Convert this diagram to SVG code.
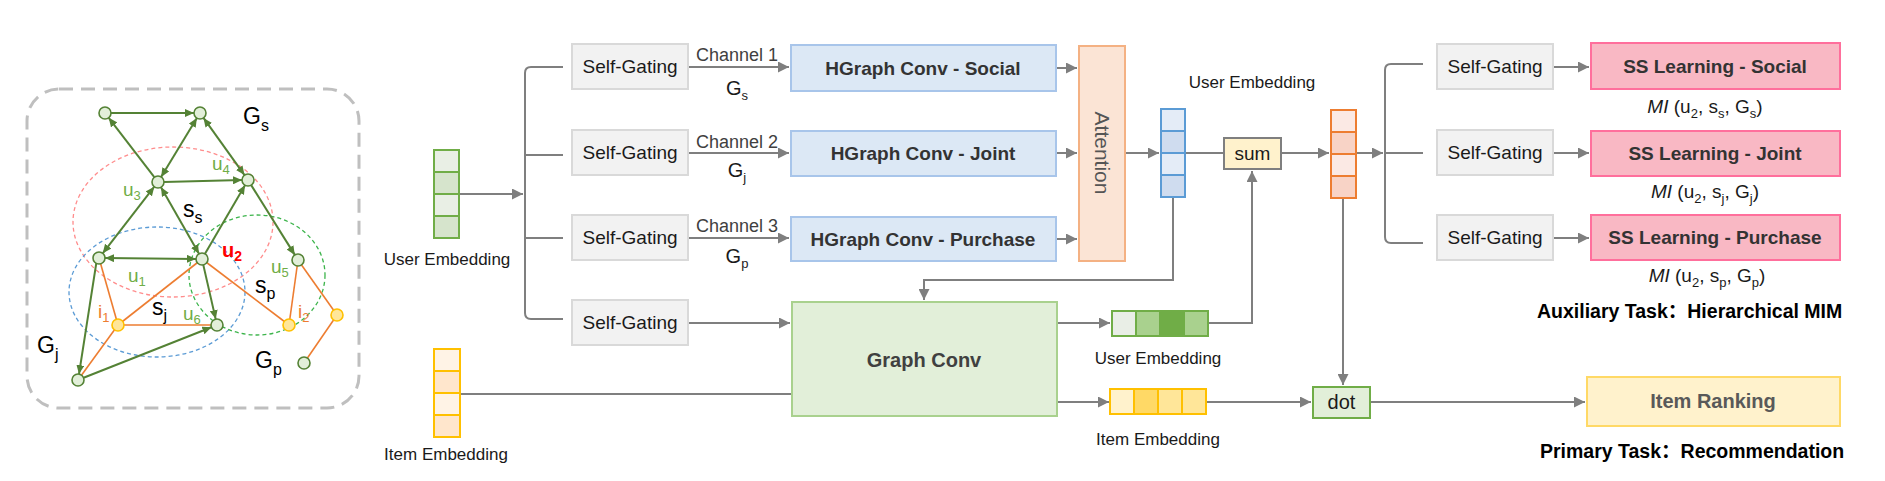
<svg xmlns="http://www.w3.org/2000/svg" width="1885" height="481" viewBox="0 0 1885 481">
<style>
text{font-family:"Liberation Sans",Arial,"Noto Sans CJK SC",sans-serif;}
.conn{fill:none;stroke:#7f7f7f;stroke-width:2;}
.sg{fill:#f2f2f2;stroke:#d9d9d9;stroke-width:2;}
.sgt{font-size:19px;fill:#1a1a1a;text-anchor:middle;}
.hg{fill:#dce8f5;stroke:#a8c5ea;stroke-width:2;}
.hgt{font-size:19px;font-weight:bold;fill:#333;text-anchor:middle;}
.ss{fill:#f9b8c4;stroke:#ff6f9c;stroke-width:2;}
.lbl{font-size:17px;fill:#1a1a1a;text-anchor:middle;}
.ch{font-size:18px;fill:#404040;text-anchor:middle;}
.gl{font-size:20px;fill:#1a1a1a;text-anchor:middle;}
.mi{font-size:19px;fill:#1a1a1a;text-anchor:middle;}
.task{font-size:19.5px;font-weight:bold;fill:#000;}
.ge{fill:none;stroke:#548235;stroke-width:2;}
.oe{fill:none;stroke:#ed7d31;stroke-width:1.6;}
.gn{fill:#e2efd9;stroke:#548235;stroke-width:1.6;}
.yn{fill:#ffe699;stroke:#ffc000;stroke-width:1.6;}
.ul{font-size:19px;fill:#70ad47;}
.il{font-size:19px;fill:#ed7d31;}
.sl{font-size:23px;fill:#000;}
</style>
<defs>
<marker id="ah" markerUnits="userSpaceOnUse" markerWidth="12" markerHeight="11" refX="11" refY="5.5" orient="auto">
<path d="M0,0 L11,5.5 L0,11 z" fill="#7f7f7f"/>
</marker>
<marker id="gh" markerUnits="userSpaceOnUse" markerWidth="10" markerHeight="8" refX="9" refY="4" orient="auto-start-reverse">
<path d="M0,0 L9,4 L0,8 z" fill="#548235"/>
</marker>
</defs>
<rect width="1885" height="481" fill="#fff"/>

<!-- left graph panel -->
<g id="graph-panel">
<rect x="27" y="89" width="332" height="319" rx="32" fill="none" stroke="#bfbfbf" stroke-width="3" stroke-dasharray="14 8"/>
<ellipse cx="173" cy="222" rx="100" ry="75" fill="none" stroke="#ff8c8c" stroke-width="1.3" stroke-dasharray="4 3"/>
<ellipse cx="157" cy="292" rx="88" ry="65" fill="none" stroke="#5b9bd5" stroke-width="1.3" stroke-dasharray="4 3"/>
<ellipse cx="257" cy="275" rx="68" ry="60" fill="none" stroke="#3cb44b" stroke-width="1.3" stroke-dasharray="4 3"/>
<g id="graph-edges">
<line class="oe" x1="99" y1="258" x2="118" y2="325"/>
<line class="oe" x1="118" y1="325" x2="202" y2="259"/>
<line class="oe" x1="118" y1="325" x2="217" y2="325"/>
<line class="oe" x1="118" y1="325" x2="78" y2="380"/>
<line class="oe" x1="202" y1="259" x2="289" y2="325"/>
<line class="oe" x1="298" y1="260" x2="289" y2="325"/>
<line class="oe" x1="298" y1="260" x2="337" y2="315"/>
<line class="oe" x1="337" y1="315" x2="304" y2="363"/>
<line class="ge" x1="111" y1="113" x2="194" y2="113" marker-end="url(#gh)"/>
<line class="ge" x1="154.3" y1="177.2" x2="108.7" y2="117.8" marker-end="url(#gh)"/>
<line class="ge" x1="161.1" y1="176.9" x2="196.9" y2="118.1" marker-start="url(#gh)" marker-end="url(#gh)"/>
<line class="ge" x1="203.5" y1="117.9" x2="244.5" y2="175.1" marker-start="url(#gh)" marker-end="url(#gh)"/>
<line class="ge" x1="164" y1="181.9" x2="242" y2="180.1" marker-end="url(#gh)"/>
<line class="ge" x1="154.3" y1="186.7" x2="102.7" y2="253.3" marker-start="url(#gh)" marker-end="url(#gh)"/>
<line class="ge" x1="161" y1="187.2" x2="199" y2="253.8" marker-start="url(#gh)" marker-end="url(#gh)"/>
<line class="ge" x1="105" y1="258.1" x2="196" y2="258.9" marker-start="url(#gh)" marker-end="url(#gh)"/>
<line class="ge" x1="205" y1="253.8" x2="245" y2="185.2" marker-end="url(#gh)"/>
<line class="ge" x1="251.2" y1="185.1" x2="294.8" y2="254.9" marker-end="url(#gh)"/>
<line class="ge" x1="203.3" y1="264.9" x2="215.7" y2="319.1" marker-end="url(#gh)"/>
<line class="ge" x1="79" y1="374.1" x2="98" y2="252.1" marker-start="url(#gh)" marker-end="url(#gh)"/>
<line class="ge" x1="83.6" y1="377.8" x2="211.4" y2="327.2" marker-end="url(#gh)"/>
</g>
<g id="graph-nodes">
<circle class="gn" cx="105" cy="113" r="6"/>
<circle class="gn" cx="200" cy="113" r="6"/>
<circle class="gn" cx="158" cy="182" r="6"/>
<circle class="gn" cx="248" cy="180" r="6"/>
<circle class="gn" cx="99" cy="258" r="6"/>
<circle class="gn" cx="202" cy="259" r="6"/>
<circle class="gn" cx="298" cy="260" r="6"/>
<circle class="yn" cx="118" cy="325" r="6"/>
<circle class="gn" cx="217" cy="325" r="6"/>
<circle class="yn" cx="289" cy="325" r="6"/>
<circle class="yn" cx="337" cy="315" r="6"/>
<circle class="gn" cx="78" cy="380" r="6"/>
<circle class="gn" cx="304" cy="363" r="6"/>
</g>
<g id="graph-labels">
<text class="sl" x="243" y="124" font-size="24">G<tspan font-size="16" dy="7">s</tspan></text>
<text class="sl" x="37" y="353" font-size="24">G<tspan font-size="16" dy="7">j</tspan></text>
<text class="sl" x="255" y="368" font-size="24">G<tspan font-size="16" dy="7">p</tspan></text>
<text class="ul" x="212" y="170">u<tspan font-size="13" dy="4">4</tspan></text>
<text class="ul" x="123" y="196">u<tspan font-size="13" dy="4">3</tspan></text>
<text class="ul" x="128" y="282">u<tspan font-size="13" dy="4">1</tspan></text>
<text class="ul" x="271" y="273">u<tspan font-size="13" dy="4">5</tspan></text>
<text class="ul" x="183" y="320">u<tspan font-size="13" dy="4">6</tspan></text>
<text x="222" y="257" font-size="20" font-weight="bold" fill="#ff0000">u<tspan font-size="14" dy="4">2</tspan></text>
<text class="il" x="98" y="318">i<tspan font-size="13" dy="4">1</tspan></text>
<text class="il" x="298" y="318">i<tspan font-size="13" dy="4">2</tspan></text>
<text class="sl" x="183" y="217">s<tspan font-size="16" dy="6">s</tspan></text>
<text class="sl" x="255" y="293">s<tspan font-size="16" dy="6">p</tspan></text>
<text class="sl" x="152" y="315">s<tspan font-size="16" dy="6">j</tspan></text>
</g>
</g>

<!-- connectors -->
<g id="connectors">
<path class="conn" d="M459,194 H523" marker-end="url(#ah)"/>
<path class="conn" d="M563,67 H531 Q525,67 525,73 V313 Q525,319 531,319 H563"/>
<path class="conn" d="M525,155 H563"/>
<path class="conn" d="M525,238 H563"/>
<path class="conn" d="M688,67 H789" marker-end="url(#ah)"/>
<path class="conn" d="M688,153 H789" marker-end="url(#ah)"/>
<path class="conn" d="M688,238 H789" marker-end="url(#ah)"/>
<path class="conn" d="M688,323 H790" marker-end="url(#ah)"/>
<path class="conn" d="M460,394 H792"/>
<path class="conn" d="M1056,68 H1077" marker-end="url(#ah)"/>
<path class="conn" d="M1056,153 H1077" marker-end="url(#ah)"/>
<path class="conn" d="M1056,239 H1077" marker-end="url(#ah)"/>
<path class="conn" d="M1125,153 H1159" marker-end="url(#ah)"/>
<path class="conn" d="M1185,153 H1224"/>
<path class="conn" d="M1281,153 H1329" marker-end="url(#ah)"/>
<path class="conn" d="M1356,153 H1383" marker-end="url(#ah)"/>
<path class="conn" d="M1423,64 H1391 Q1385,64 1385,70 V237 Q1385,243 1391,243 H1423"/>
<path class="conn" d="M1385,153 H1423"/>
<path class="conn" d="M1553,67 H1589" marker-end="url(#ah)"/>
<path class="conn" d="M1553,153 H1589" marker-end="url(#ah)"/>
<path class="conn" d="M1553,238 H1589" marker-end="url(#ah)"/>
<path class="conn" d="M1173,197 V280 H924 V300" marker-end="url(#ah)"/>
<path class="conn" d="M1057,323 H1110" marker-end="url(#ah)"/>
<path class="conn" d="M1057,402 H1109" marker-end="url(#ah)"/>
<path class="conn" d="M1208,323 H1252 V171" marker-end="url(#ah)"/>
<path class="conn" d="M1206,402 H1311" marker-end="url(#ah)"/>
<path class="conn" d="M1343,198 V385" marker-end="url(#ah)"/>
<path class="conn" d="M1370,402 H1585" marker-end="url(#ah)"/>
</g>

<!-- input user embedding -->
<g id="user-embedding-in">
<rect x="434" y="150" width="25" height="22" fill="#e9efe5" stroke="#70ad47" stroke-width="2"/>
<rect x="434" y="172" width="25" height="22" fill="#d6e4cc" stroke="#70ad47" stroke-width="2"/>
<rect x="434" y="194" width="25" height="22" fill="#e9efe5" stroke="#70ad47" stroke-width="2"/>
<rect x="434" y="216" width="25" height="22" fill="#d6e4cc" stroke="#70ad47" stroke-width="2"/>
<text class="lbl" x="447" y="265">User Embedding</text>
</g>
<g id="item-embedding-in">
<rect x="434" y="349" width="26" height="22" fill="#fff3e6" stroke="#ffc000" stroke-width="2"/>
<rect x="434" y="371" width="26" height="22" fill="#ffe6cc" stroke="#ffc000" stroke-width="2"/>
<rect x="434" y="393" width="26" height="22" fill="#fff3e6" stroke="#ffc000" stroke-width="2"/>
<rect x="434" y="415" width="26" height="22" fill="#ffe6cc" stroke="#ffc000" stroke-width="2"/>
<text class="lbl" x="446" y="460">Item Embedding</text>
</g>

<!-- self gating left -->
<g id="sg1"><rect class="sg" x="572" y="44" width="116" height="45"/><text class="sgt" x="630" y="73">Self-Gating</text></g>
<g id="sg2"><rect class="sg" x="572" y="130" width="116" height="45"/><text class="sgt" x="630" y="159">Self-Gating</text></g>
<g id="sg3"><rect class="sg" x="572" y="215" width="116" height="45"/><text class="sgt" x="630" y="244">Self-Gating</text></g>
<g id="sg4"><rect class="sg" x="572" y="300" width="116" height="45"/><text class="sgt" x="630" y="329">Self-Gating</text></g>

<!-- channel labels -->
<g id="channel-labels">
<text class="ch" x="737" y="61">Channel 1</text>
<text class="gl" x="737" y="95">G<tspan font-size="13" dy="5">s</tspan></text>
<text class="ch" x="737" y="148">Channel 2</text>
<text class="gl" x="737" y="177">G<tspan font-size="13" dy="5">j</tspan></text>
<text class="ch" x="737" y="232">Channel 3</text>
<text class="gl" x="737" y="263">G<tspan font-size="13" dy="5">p</tspan></text>
</g>

<!-- hypergraph conv -->
<g id="hg-social"><rect class="hg" x="791" y="45" width="265" height="46"/><text class="hgt" x="923" y="75">HGraph Conv - Social</text></g>
<g id="hg-joint"><rect class="hg" x="791" y="131" width="265" height="45"/><text class="hgt" x="923" y="160">HGraph Conv - Joint</text></g>
<g id="hg-purchase"><rect class="hg" x="791" y="217" width="265" height="44"/><text class="hgt" x="923" y="246">HGraph Conv - Purchase</text></g>

<g id="attention">
<rect x="1079" y="46" width="46" height="215" fill="#fbe4d5" stroke="#f4b183" stroke-width="2"/>
<text transform="translate(1102,153) rotate(90)" x="0" y="7" font-size="21" fill="#555" text-anchor="middle">Attention</text>
</g>

<g id="user-embedding-mid">
<rect x="1161" y="109" width="24" height="22" fill="#e4ecf7" stroke="#5b9bd5" stroke-width="2"/>
<rect x="1161" y="131" width="24" height="22" fill="#cfdcef" stroke="#5b9bd5" stroke-width="2"/>
<rect x="1161" y="153" width="24" height="22" fill="#e4ecf7" stroke="#5b9bd5" stroke-width="2"/>
<rect x="1161" y="175" width="24" height="22" fill="#cfdcef" stroke="#5b9bd5" stroke-width="2"/>
<text class="lbl" x="1252" y="88">User Embedding</text>
</g>

<g id="sum">
<rect x="1224" y="138" width="57" height="31" fill="#fff2cc" stroke="#7f7f7f" stroke-width="2"/>
<text x="1252.5" y="160" font-size="19" fill="#1a1a1a" text-anchor="middle">sum</text>
</g>

<g id="user-embedding-out">
<rect x="1331" y="110" width="25" height="22" fill="#fbe9e4" stroke="#ed7d31" stroke-width="2"/>
<rect x="1331" y="132" width="25" height="22" fill="#f8d3c6" stroke="#ed7d31" stroke-width="2"/>
<rect x="1331" y="154" width="25" height="22" fill="#fbe9e4" stroke="#ed7d31" stroke-width="2"/>
<rect x="1331" y="176" width="25" height="22" fill="#f8d3c6" stroke="#ed7d31" stroke-width="2"/>
</g>

<!-- self gating right -->
<g id="sg5"><rect class="sg" x="1437" y="44" width="116" height="45"/><text class="sgt" x="1495" y="73">Self-Gating</text></g>
<g id="sg6"><rect class="sg" x="1437" y="130" width="116" height="45"/><text class="sgt" x="1495" y="159">Self-Gating</text></g>
<g id="sg7"><rect class="sg" x="1437" y="215" width="116" height="45"/><text class="sgt" x="1495" y="244">Self-Gating</text></g>

<g id="ss-social"><rect class="ss" x="1591" y="43" width="249" height="46"/><text class="hgt" x="1715" y="73" fill="#3b3b3b">SS Learning - Social</text></g>
<g id="ss-joint"><rect class="ss" x="1591" y="131" width="249" height="45"/><text class="hgt" x="1715" y="160" fill="#3b3b3b">SS Learning - Joint</text></g>
<g id="ss-purchase"><rect class="ss" x="1591" y="215" width="249" height="45"/><text class="hgt" x="1715" y="244" fill="#3b3b3b">SS Learning - Purchase</text></g>

<g id="mi-labels">
<text class="mi" x="1705" y="113"><tspan font-style="italic">MI</tspan> (u<tspan font-size="13" dy="5">2</tspan><tspan dy="-5">, s</tspan><tspan font-size="13" dy="5">s</tspan><tspan dy="-5">, G</tspan><tspan font-size="13" dy="5">s</tspan><tspan dy="-5">)</tspan></text>
<text class="mi" x="1705" y="198"><tspan font-style="italic">MI</tspan> (u<tspan font-size="13" dy="5">2</tspan><tspan dy="-5">, s</tspan><tspan font-size="13" dy="5">j</tspan><tspan dy="-5">, G</tspan><tspan font-size="13" dy="5">j</tspan><tspan dy="-5">)</tspan></text>
<text class="mi" x="1707" y="282"><tspan font-style="italic">MI</tspan> (u<tspan font-size="13" dy="5">2</tspan><tspan dy="-5">, s</tspan><tspan font-size="13" dy="5">p</tspan><tspan dy="-5">, G</tspan><tspan font-size="13" dy="5">p</tspan><tspan dy="-5">)</tspan></text>
</g>

<text class="task" x="1537" y="318">Auxiliary Task：Hierarchical MIM</text>

<g id="graph-conv">
<rect x="792" y="302" width="265" height="114" fill="#e2efd9" stroke="#a9d18e" stroke-width="2"/>
<text x="924" y="367" font-size="20" font-weight="bold" fill="#404040" text-anchor="middle">Graph Conv</text>
</g>

<g id="user-embedding-final">
<rect x="1112" y="311" width="24" height="25" fill="#e9eee6" stroke="#70ad47" stroke-width="2"/>
<rect x="1136" y="311" width="24" height="25" fill="#a9d18e" stroke="#70ad47" stroke-width="2"/>
<rect x="1160" y="311" width="24" height="25" fill="#70ad47" stroke="#70ad47" stroke-width="2"/>
<rect x="1184" y="311" width="24" height="25" fill="#a9d18e" stroke="#70ad47" stroke-width="2"/>
<text class="lbl" x="1158" y="364">User Embedding</text>
</g>

<g id="item-embedding-final">
<rect x="1110" y="389" width="24" height="25" fill="#fff2cc" stroke="#ffc000" stroke-width="2"/>
<rect x="1134" y="389" width="24" height="25" fill="#ffd966" stroke="#ffc000" stroke-width="2"/>
<rect x="1158" y="389" width="24" height="25" fill="#ffe699" stroke="#ffc000" stroke-width="2"/>
<rect x="1182" y="389" width="24" height="25" fill="#ffe699" stroke="#ffc000" stroke-width="2"/>
<text class="lbl" x="1158" y="445">Item Embedding</text>
</g>

<g id="dot">
<rect x="1313" y="387" width="57" height="31" fill="#e2efd9" stroke="#70ad47" stroke-width="2"/>
<text x="1341.5" y="409" font-size="20" fill="#1a1a1a" text-anchor="middle">dot</text>
</g>

<g id="item-ranking">
<rect x="1587" y="377" width="253" height="49" fill="#fff2cc" stroke="#ffd966" stroke-width="2"/>
<text x="1713" y="408" font-size="20" font-weight="bold" fill="#595959" text-anchor="middle">Item Ranking</text>
</g>

<text class="task" x="1540" y="458">Primary Task：Recommendation</text>
</svg>
